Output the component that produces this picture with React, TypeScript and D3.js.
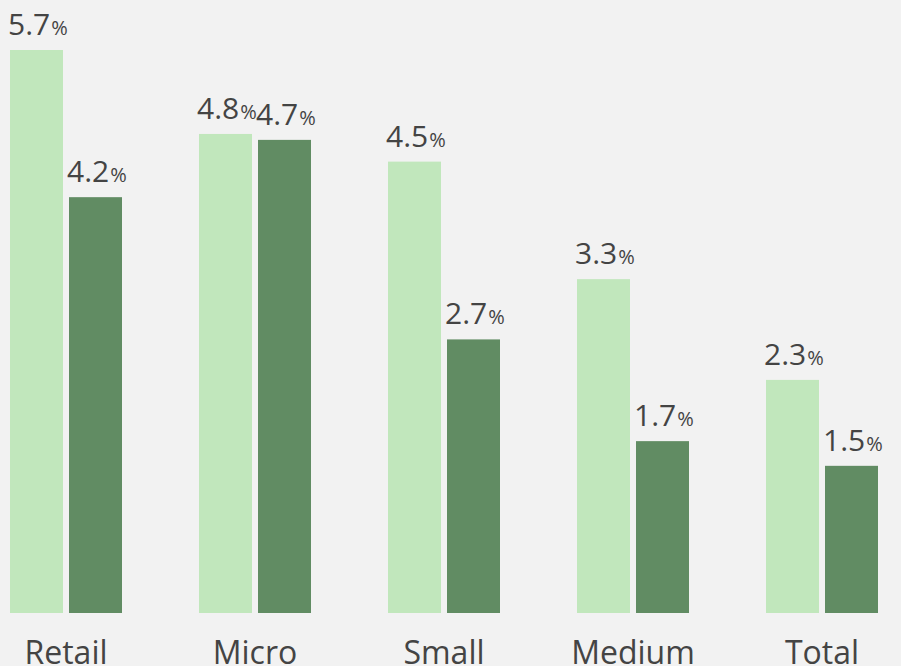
import React, { useEffect, useRef } from "react";
import * as d3 from "d3";

const categories = ["Retail", "Micro", "Small", "Medium", "Total"];
const seriesKeys = ["before", "after"];
// bar heights (labels are shown rounded)
const beforeValues = [5.7, 4.85, 4.57, 3.38, 2.36];
const afterValues = [4.21, 4.79, 2.77, 1.74, 1.49];
const beforeLabels = ["5.7", "4.8", "4.5", "3.3", "2.3"];
const afterLabels = ["4.2", "4.7", "2.7", "1.7", "1.5"];

const App = () => {
  const svgRef = useRef<SVGSVGElement>(null);

  useEffect(() => {
    const width = 901;
    const height = 666;
    const svg = d3.select(svgRef.current);
    svg.selectAll("*").remove();
    svg.attr("width", width).attr("height", height);

    svg
      .append("rect")
      .attr("width", width)
      .attr("height", height)
      .attr("fill", "#f2f2f2");

    const data = categories.map((c, i) => ({
      name: c,
      before: { value: beforeValues[i], label: beforeLabels[i] },
      after: { value: afterValues[i], label: afterLabels[i] },
    }));

    const x0 = d3.scalePoint().domain(categories).range([66, 822]);
    const x1 = d3
      .scaleBand()
      .domain(seriesKeys)
      .range([-56, 56])
      .paddingInner(6 / 59);
    const y = d3.scaleLinear().domain([0, 5.7]).range([613, 50]);
    const color = d3
      .scaleOrdinal<string>()
      .domain(seriesKeys)
      .range(["#c1e7bc", "#618c63"]);

    const font = "'Open Sans', 'Noto Sans', sans-serif";

    const group = svg
      .selectAll(".group")
      .data(data)
      .enter()
      .append("g")
      .attr("class", "group")
      .attr("transform", (d) => `translate(${x0(d.name)},0)`);

    const items = group
      .selectAll(".item")
      .data((d) => seriesKeys.map((key) => ({ key, ...d[key] })))
      .enter()
      .append("g")
      .attr("class", "item");

    items
      .append("rect")
      .attr("x", (d) => x1(d.key)!)
      .attr("y", (d) => y(d.value))
      .attr("width", x1.bandwidth())
      .attr("height", (d) => y(0) - y(d.value))
      .attr("fill", (d) => color(d.key));

    const label = items
      .append("text")
      .attr("x", (d) => x1(d.key)! - 2)
      .attr("y", (d) => y(d.value) - 15)
      .attr("fill", "#444")
      .style("font-family", font)
      .style("font-size", "30px");
    label.append("tspan").text((d) => d.label);
    label
      .append("tspan")
      .style("font-size", "20px")
      .attr("dx", 1)
      .text("%");

    svg
      .append("g")
      .selectAll("text")
      .data(categories)
      .enter()
      .append("text")
      .attr("x", (d) => x0(d)!)
      .attr("y", 664)
      .attr("text-anchor", "middle")
      .attr("fill", "#444")
      .style("font-family", font)
      .style("font-size", "32px")
      .text((d) => d);
  }, []);

  return (
    <svg
      ref={svgRef}
      style={{ position: "absolute", left: 0, top: 0, display: "block" }}
    ></svg>
  );
};

export default App;
